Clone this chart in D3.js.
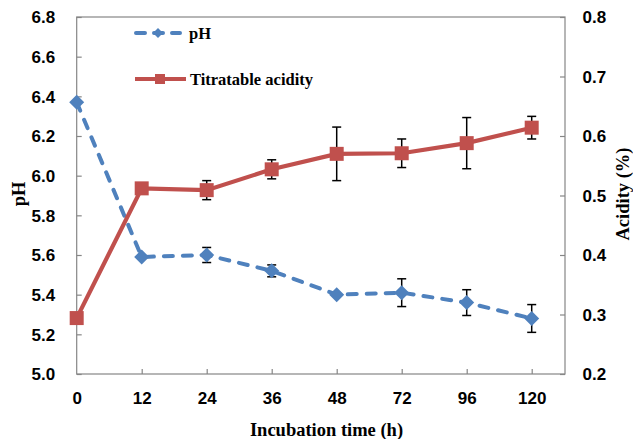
<!DOCTYPE html>
<html><head><meta charset="utf-8">
<script src="https://cdn.jsdelivr.net/npm/d3@7"></script>
<style>
html,body{margin:0;padding:0;background:#fff;}
svg{display:block;font-family:"Liberation Serif","Times New Roman",serif;font-weight:bold;}
</style></head>
<body><svg id="c" width="633" height="439"></svg>
<script>
const categories = ["0","12","24","36","48","72","96","120"];
const pHValues = [6.37, 5.59, 5.60, 5.52, 5.40, 5.41, 5.36, 5.28];
const pHErrors = [0, 0, 0.038, 0.03, 0, 0.07, 0.065, 0.07];
const acidityValues = [0.294, 0.512, 0.509, 0.544, 0.570, 0.571, 0.588, 0.614];
const acidityErrors = [0, 0, 0.016, 0.016, 0.045, 0.024, 0.043, 0.019];
const leftTicks = [5.0,5.2,5.4,5.6,5.8,6.0,6.2,6.4,6.6,6.8];
const rightTicks = [0.2,0.3,0.4,0.5,0.6,0.7,0.8];

const svg = d3.select("#c");
const L = 76.7, R = 565, T = 17, B = 374, step = 65;
const blue = "#4F81BD", red = "#C0504D", axisCol = "#868686";

const x = d3.scalePoint().domain(categories).range([L, L + step*(categories.length-1)]);
const yL = d3.scaleLinear().domain([5.0, 6.8]).range([B, T]);
const yR = d3.scaleLinear().domain([0.2, 0.8]).range([B, T]);

// frame
svg.append("rect").attr("x", L).attr("y", T).attr("width", R-L).attr("height", B-T)
  .attr("fill", "none").attr("stroke", axisCol).attr("stroke-width", 1.2);

// left axis
const gL = svg.append("g").attr("transform", `translate(${L},0)`)
  .call(d3.axisRight(yL).tickValues(leftTicks).tickSize(5).tickFormat(d3.format(".1f")));
gL.select(".domain").remove();
gL.selectAll("line").attr("stroke", axisCol).attr("stroke-width", 1.2);
gL.selectAll("text").attr("x", -21.5).attr("text-anchor", "end").attr("dy", "0.34em")
  .style("font-size", "17px").attr("fill", "#000");

// right axis
const gR = svg.append("g").attr("transform", `translate(${R},0)`)
  .call(d3.axisLeft(yR).tickValues(rightTicks).tickSize(5).tickFormat(d3.format(".1f")));
gR.select(".domain").remove();
gR.selectAll("line").attr("stroke", axisCol).attr("stroke-width", 1.2);
gR.selectAll("text").attr("x", 17.5).attr("text-anchor", "start").attr("dy", "0.34em")
  .style("font-size", "17px").attr("fill", "#000");

// bottom axis
const gB = svg.append("g").attr("transform", `translate(0,${B})`)
  .call(d3.axisTop(x).tickSize(5));
gB.select(".domain").remove();
gB.selectAll("line").attr("stroke", axisCol).attr("stroke-width", 1.2)
  .attr("opacity", (d,i) => i === 0 ? 0 : 1);
gB.selectAll("text").attr("y", 29.5).attr("dy", 0)
  .style("font-size", "17px").attr("fill", "#000");

// axis titles
svg.append("text").attr("x", 326.5).attr("y", 435.5).attr("text-anchor", "middle")
  .style("font-size", "18.5px").text("Incubation time (h)");
svg.append("text").attr("transform", `translate(25,194) rotate(-90)`).attr("text-anchor", "middle")
  .style("font-size", "18.5px").text("pH");
svg.append("text").attr("transform", `translate(629,194) rotate(-90)`).attr("text-anchor", "middle")
  .style("font-size", "18.5px").text("Acidity (%)");

// lines
const lineL = d3.line().x((d,i) => x(categories[i])).y(d => yL(d));
const lineR = d3.line().x((d,i) => x(categories[i])).y(d => yR(d));
svg.append("path").attr("d", lineL(pHValues)).attr("fill", "none").attr("stroke", blue)
  .attr("stroke-width", 4).attr("stroke-dasharray", "9,10").attr("stroke-linecap", "round");
svg.append("path").attr("d", lineR(acidityValues)).attr("fill", "none").attr("stroke", red)
  .attr("stroke-width", 4.2);

// error bars
function errBars(vals, errs, y) {
  const g = svg.append("g").attr("stroke", "#000").attr("stroke-width", 1.5);
  vals.forEach((v, i) => {
    const e = errs[i];
    if (!e) return;
    const cx = x(categories[i]);
    g.append("line").attr("x1", cx).attr("x2", cx).attr("y1", y(v-e)).attr("y2", y(v+e));
    g.append("line").attr("x1", cx-4.5).attr("x2", cx+4.5).attr("y1", y(v-e)).attr("y2", y(v-e));
    g.append("line").attr("x1", cx-4.5).attr("x2", cx+4.5).attr("y1", y(v+e)).attr("y2", y(v+e));
  });
}
errBars(pHValues, pHErrors, yL);
errBars(acidityValues, acidityErrors, yR);

// markers
const diamond = (cx, cy, r) => `M${cx},${cy-r}L${cx+r},${cy}L${cx},${cy+r}L${cx-r},${cy}Z`;
svg.append("g").selectAll("path").data(pHValues).join("path")
  .attr("d", (d,i) => diamond(x(categories[i]), yL(d), 7.5)).attr("fill", blue);
svg.append("g").selectAll("rect").data(acidityValues).join("rect")
  .attr("x", (d,i) => x(categories[i]) - 7).attr("y", d => yR(d) - 7)
  .attr("width", 14).attr("height", 14).attr("fill", red);

// legend
const lg = svg.append("g");
lg.append("line").attr("x1", 136).attr("x2", 180).attr("y1", 33).attr("y2", 33)
  .attr("stroke", blue).attr("stroke-width", 4).attr("stroke-dasharray", "9,9").attr("stroke-linecap", "round");
lg.append("path").attr("d", diamond(158, 33, 5)).attr("fill", blue);
lg.append("text").attr("x", 189).attr("y", 39).style("font-size", "16.5px").text("pH");
lg.append("line").attr("x1", 135).attr("x2", 186).attr("y1", 79).attr("y2", 79)
  .attr("stroke", red).attr("stroke-width", 4);
lg.append("rect").attr("x", 155).attr("y", 74).attr("width", 10).attr("height", 10).attr("fill", red);
lg.append("text").attr("x", 190).attr("y", 85).style("font-size", "16.5px").text("Titratable acidity");
</script></body></html>
